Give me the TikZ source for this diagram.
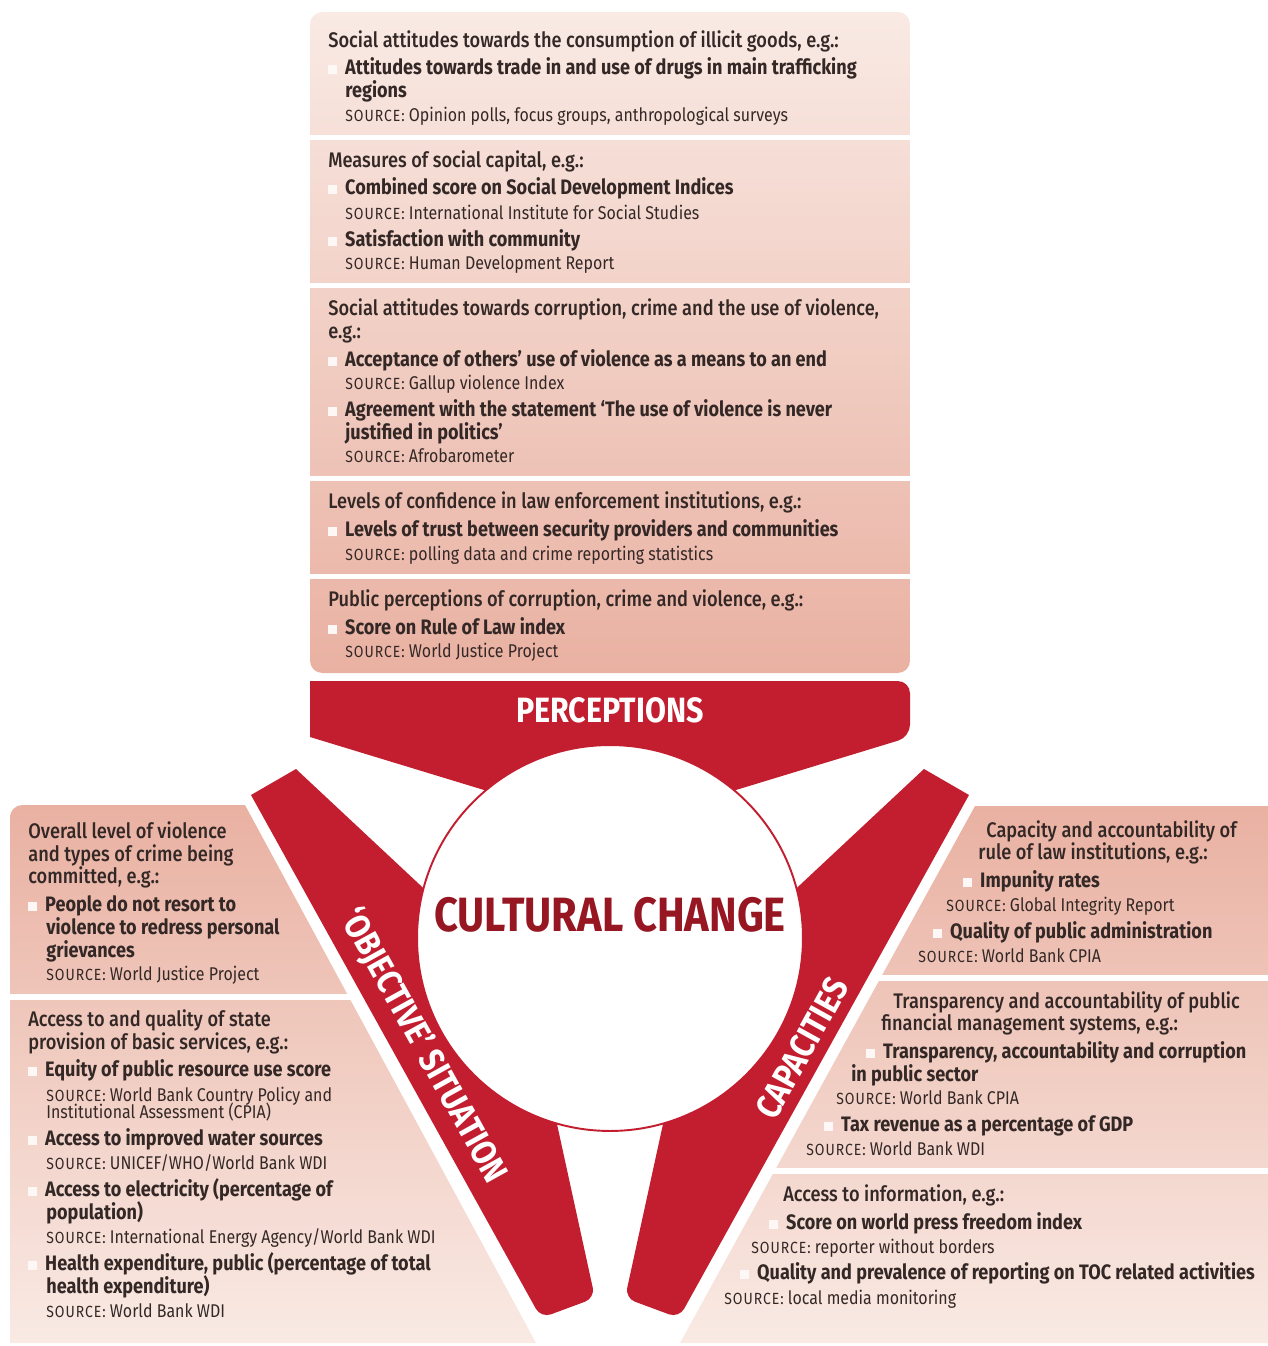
\documentclass[tikz,border=0pt]{standalone}
\usepackage{fontspec}
\setmainfont{Fira Sans}[FakeStretch=0.865]
\newfontfamily\medfont{Fira Sans Medium}[FakeStretch=0.865]
\newfontfamily\scfont{Fira Sans}[FakeStretch=0.865, LetterSpace=6]

\definecolor{cred}{RGB}{194,30,48}
\definecolor{cdark}{RGB}{150,22,34}
\definecolor{ink}{RGB}{52,40,38}
\definecolor{pale}{RGB}{249,234,228}
\definecolor{deep}{RGB}{233,177,162}
\definecolor{sqcol}{RGB}{253,248,246}

\newcommand{\sqb}{\textcolor{sqcol}{\rule{5pt}{5pt}}\hspace{4.6pt}}
\newcommand{\srcl}{{\scfont\fontsize{9.2}{10}\selectfont SOURCE:}\ }

\tikzset{
  txt/.style={anchor=base west, inner sep=0pt, text=ink},
  hd/.style={txt, font=\medfont\fontsize{12}{13}\selectfont},
  itm/.style={txt, font=\bfseries\fontsize{11.9}{13}\selectfont},
  src/.style={txt, font=\fontsize{10.5}{12}\selectfont},
  gap/.style={white, line width=3pt},
  hub/.style={circle, draw=cred, line width=1.1pt, fill=white, minimum size=7.72cm, inner sep=0pt},
  armlabel/.style={text=white, font=\bfseries\fontsize{20}{24}\selectfont, inner sep=0pt}
}

\begin{document}
\begin{tikzpicture}[x=0.02cm, y=-0.02cm]
\useasboundingbox (0,0) rectangle (1268,1346);

\shade[top color=pale, bottom color=deep, rounded corners=7pt] (310,12) rectangle (910,673);
\foreach \g in {137.5,285.5,478.5,576.5} \draw[gap] (305,\g) -- (915,\g);
\shade[top color=deep, bottom color=pale] (245,805) -- (536,1343) -- (10,1343) [rounded corners=7pt] -- (10,805) -- (128,805) [sharp corners] -- cycle;
\draw[gap] (5,997) -- (360,997);
\shade[top color=deep, bottom color=pale] (975,806) -- (1268,806) -- (1268,1343) -- (680,1343) -- cycle;
\draw[gap] (860,978) -- (1270,978);
\draw[gap] (750,1171) -- (1270,1171);

\fill[cred] (610,940) -- (530,804) -- (310,737) -- (310,681) [rounded corners=7pt] -- (910,681) -- (910,737) [sharp corners] -- (690,804) -- cycle;
\fill[cred] (610,940) -- (450,913) -- (296,769) -- (251,795) [rounded corners=6pt] -- (541,1318) -- (595,1298) [sharp corners] -- (550,1092) -- cycle;
\fill[cred] (610,940) -- (770,913) -- (924,769) -- (969,795) [rounded corners=6pt] -- (679,1318) -- (625,1298) [sharp corners] -- (670,1092) -- cycle;
\node[hub] (hub) at (610,938) {};

\node[text=white, font=\bfseries\fontsize{20}{24}\selectfont, inner sep=0pt] (perc) at (610,710) {PERCEPTIONS};
\node[text=cdark, font=\bfseries\fontsize{27.4}{32}\selectfont, inner sep=0pt] (cult) at (610,915) {CULTURAL CHANGE};
\node[armlabel, rotate=-61] (objsit) at (423,1046) {‘OBJECTIVE’ SITUATION};
\node[armlabel, rotate=61] (capac) at (802,1048) {CAPACITIES};

\node[hd] (p1h) at (328,47) {Social attitudes towards the consumption of illicit goods, e.g.:};
\node[itm] (p1i) at (328,74) {\sqb Attitudes towards trade in and use of drugs in main trafficking};
\node[itm] (p1j) at (345,97) {regions};
\node[src] (p1s) at (345,121) {\srcl Opinion polls, focus groups, anthropological surveys};

\node[hd] (p2h) at (328,167) {Measures of social capital, e.g.:};
\node[itm] (p2i) at (328,194) {\sqb Combined score on Social Development Indices};
\node[src] (p2s) at (345,219) {\srcl International Institute for Social Studies};
\node[itm] (p2j) at (328,246) {\sqb Satisfaction with community};
\node[src] (p2t) at (345,269) {\srcl Human Development Report};

\node[hd] (p3h) at (328,315) {Social attitudes towards corruption, crime and the use of violence,};
\node[hd] (p3g) at (328,338) {e.g.:};
\node[itm] (p3i) at (328,366) {\sqb Acceptance of others’ use of violence as a means to an end};
\node[src] (p3s) at (345,389) {\srcl Gallup violence Index};
\node[itm] (p3j) at (328,416) {\sqb Agreement with the statement ‘The use of violence is never};
\node[itm] (p3k) at (345,439) {justified in politics’};
\node[src] (p3t) at (345,462) {\srcl Afrobarometer};

\node[hd] (p4h) at (328,508) {Levels of confidence in law enforcement institutions, e.g.:};
\node[itm] (p4i) at (328,536) {\sqb Levels of trust between security providers and communities};
\node[src] (p4s) at (345,560) {\srcl polling data and crime reporting statistics};

\node[hd] (p5h) at (328,606) {Public perceptions of corruption, crime and violence, e.g.:};
\node[itm] (p5i) at (328,634) {\sqb Score on Rule of Law index};
\node[src] (p5s) at (345,657) {\srcl World Justice Project};

\node[hd] (l1h) at (28,838) {Overall level of violence};
\node[hd] (l1g) at (28,861) {and types of crime being};
\node[hd] (l1f) at (28,883) {committed, e.g.:};
\node[itm] (l1i) at (28,911) {\sqb People do not resort to};
\node[itm] (l1j) at (46,934) {violence to redress personal};
\node[itm] (l1k) at (46,957) {grievances};
\node[src] (l1s) at (46,980) {\srcl World Justice Project};

\node[hd] (l2h) at (28,1026) {Access to and quality of state};
\node[hd] (l2g) at (28,1049) {provision of basic services, e.g.:};
\node[itm] (l2i) at (28,1076) {\sqb Equity of public resource use score};
\node[src] (l2s) at (46,1101) {\srcl World Bank Country Policy and};
\node[src] (l2t) at (46,1118) {Institutional Assessment (CPIA)};
\node[itm] (l2j) at (28,1145) {\sqb Access to improved water sources};
\node[src] (l2u) at (46,1169) {\srcl UNICEF/WHO/World Bank WDI};
\node[itm] (l2k) at (28,1196) {\sqb Access to electricity (percentage of};
\node[itm] (l2l) at (46,1219) {population)};
\node[src] (l2v) at (46,1243) {\srcl International Energy Agency/World Bank WDI};
\node[itm] (l2m) at (28,1270) {\sqb Health expenditure, public (percentage of total};
\node[itm] (l2n) at (46,1293) {health expenditure)};
\node[src] (l2w) at (46,1317) {\srcl World Bank WDI};

\node[hd] (r1h) at (986,837) {Capacity and accountability of};
\node[hd] (r1g) at (978,859) {rule of law institutions, e.g.:};
\node[itm] (r1i) at (963,887) {\sqb Impunity rates};
\node[src] (r1s) at (946,911) {\srcl Global Integrity Report};
\node[itm] (r1j) at (933,938) {\sqb Quality of public administration};
\node[src] (r1t) at (918,962) {\srcl World Bank CPIA};

\node[hd] (r2h) at (893,1008) {Transparency and accountability of public};
\node[hd] (r2g) at (881,1030) {financial management systems, e.g.:};
\node[itm] (r2i) at (866,1058) {\sqb Transparency, accountability and corruption};
\node[itm] (r2j) at (851,1081) {in public sector};
\node[src] (r2s) at (836,1104) {\srcl World Bank CPIA};
\node[itm] (r2k) at (824,1131) {\sqb Tax revenue as a percentage of GDP};
\node[src] (r2t) at (806,1155) {\srcl World Bank WDI};

\node[hd] (r3h) at (783,1201) {Access to information, e.g.:};
\node[itm] (r3i) at (769,1229) {\sqb Score on world press freedom index};
\node[src] (r3s) at (751,1253) {\srcl reporter without borders};
\node[itm] (r3j) at (740,1279) {\sqb Quality and prevalence of reporting on TOC related activities};
\node[src] (r3t) at (724,1304) {\srcl local media monitoring};
\end{tikzpicture}
\end{document}
